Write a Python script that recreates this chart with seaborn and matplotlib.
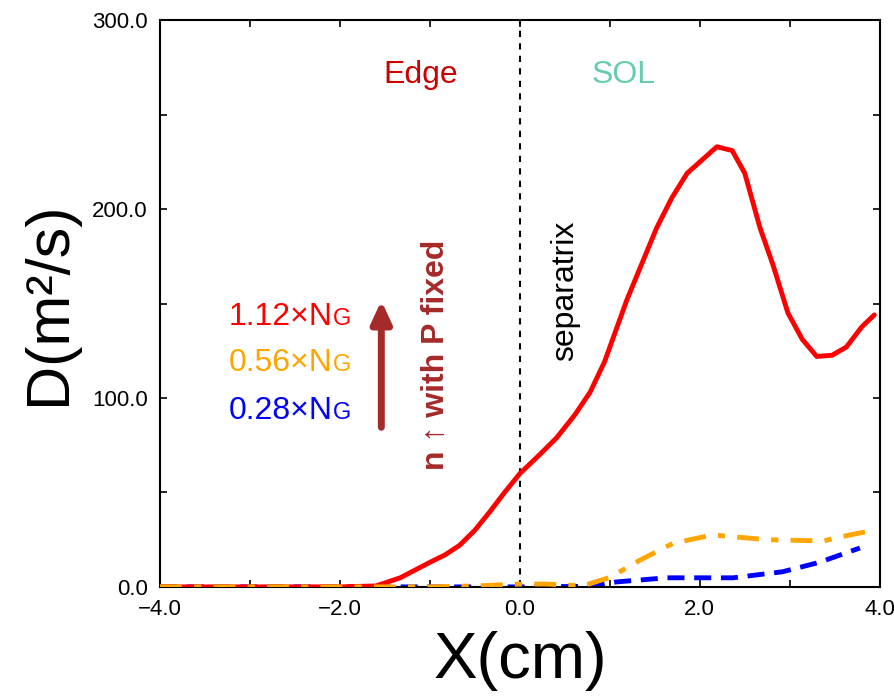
import numpy as np
import pandas as pd
import seaborn as sns
import matplotlib.pyplot as plt

# values
x_red = [-4.0, -3.0, -2.0, -1.6, -1.33, -1.0, -0.83, -0.67, -0.5, -0.33, -0.17, 0.0,
         0.22, 0.41, 0.61, 0.78, 0.94, 1.19, 1.52, 1.69, 1.86, 2.19, 2.36, 2.5,
         2.67, 2.81, 2.98, 3.14, 3.3, 3.47, 3.63, 3.8, 3.94]
d_red = [0.0, 0.0, 0.0, 0.5, 4.8, 13.0, 17.0, 22.0, 30.0, 40.0, 50.0, 60.0,
         70.0, 79.0, 91.0, 103.0, 119.0, 152.0, 190.0, 206.0, 219.0, 233.0, 231.0, 219.0,
         190.0, 171.0, 145.0, 131.0, 122.0, 122.6, 127.0, 137.6, 144.0]

x_orange = [-4.0, -3.0, -2.0, -1.0, -0.5, 0.0, 0.3, 0.7, 1.0, 1.33, 1.7, 2.14,
            2.74, 3.37, 3.67, 3.94]
d_orange = [0.0, 0.0, 0.0, 0.0, 0.5, 1.5, 1.5, 0.5, 5.0, 14.0, 23.0, 27.5,
            25.0, 24.3, 27.5, 30.0]

x_blue = [-4.0, -3.0, -2.0, -1.0, 0.0, 0.8, 1.07, 1.63, 2.37, 2.92, 3.33, 3.78]
d_blue = [0.0, 0.0, 0.0, 0.0, 0.0, 0.3, 2.6, 4.8, 4.8, 8.0, 13.0, 20.6]

labels = ["1.12\u00d7N", "0.56\u00d7N", "0.28\u00d7N"]
colors = ["#ff0000", "#ffa500", "#0000ff"]

sns.set_style("ticks")
plt.rcParams['font.family'] = ['Liberation Sans', 'DejaVu Sans']
plt.rcParams['text.color'] = 'black'
plt.rcParams['axes.labelcolor'] = 'black'
plt.rcParams['xtick.color'] = 'black'
plt.rcParams['ytick.color'] = 'black'
plt.rcParams['axes.edgecolor'] = 'black'

fig = plt.figure(figsize=(8.94, 6.97), dpi=100)
ax = fig.add_axes([0.179, 0.158, 0.805, 0.813])

ax.axvline(0, color="black", ls=(0, (3, 3)), lw=1.5, zorder=1)

sns.lineplot(x=x_red, y=d_red, ax=ax, color=colors[0], lw=3.5, zorder=3)
sns.lineplot(x=x_blue, y=d_blue, ax=ax, color=colors[2], lw=3.5, zorder=2)
sns.lineplot(x=x_orange, y=d_orange, ax=ax, color=colors[1], lw=3.5, zorder=4)
ax.lines[-1].set_dashes([4.5, 2.5, 1.5, 2.5])
ax.lines[-2].set_dashes([3.5, 2])

ax.set_xlim(-4, 4)
ax.set_ylim(0, 300)
ax.set_xticks([-4, -2, 0, 2, 4])
ax.set_xticks([-3, -1, 1, 3], minor=True)
ax.set_yticks([0, 100, 200, 300])
ax.set_yticks([50, 150, 250], minor=True)
ax.set_xticklabels(["\u22124.0", "\u22122.0", "0.0", "2.0", "4.0"])
ax.set_yticklabels(["0.0", "100.0", "200.0", "300.0"])
ax.tick_params(which="both", direction="in", top=True, right=True, labelsize=16,
               length=5, width=1.2, colors="black")
ax.tick_params(axis="x", pad=9)
ax.tick_params(axis="y", pad=9)
for s in ax.spines.values():
    s.set_linewidth(1.5)

ax.set_xlabel("X(cm)", fontsize=47, labelpad=8)
ax.set_ylabel("D(m\u00b2/s)", fontsize=44, labelpad=10)

ax.text(-1.1, 271, "Edge", color="#cc0000", fontsize=23, ha="center", va="center")
ax.text(1.15, 271, "SOL", color="#66cdaa", fontsize=23, ha="center", va="center")
ax.text(0.5, 157, "separatrix", color="black", fontsize=23, rotation=90,
        ha="center", va="center")
ax.text(-0.94, 123, "n \u2191 with P fixed", color="#a52a2a", fontsize=23,
        fontweight="bold", rotation=90, ha="center", va="center")
ax.annotate("", xy=(-1.54, 153), xytext=(-1.54, 83),
            arrowprops=dict(arrowstyle="-|>,head_width=0.6,head_length=1.3",
                            color="#a52a2a", lw=5))

ys = [143, 118.5, 93]
for lab, c, yy in zip(labels, colors, ys):
    ax.text(-2.08, yy, lab, color=c, fontsize=23, ha="right", va="center")
    ax.text(-2.08, yy - 1.2, "G", color=c, fontsize=17, ha="left", va="center")

fig.savefig("out.png", dpi=100)
